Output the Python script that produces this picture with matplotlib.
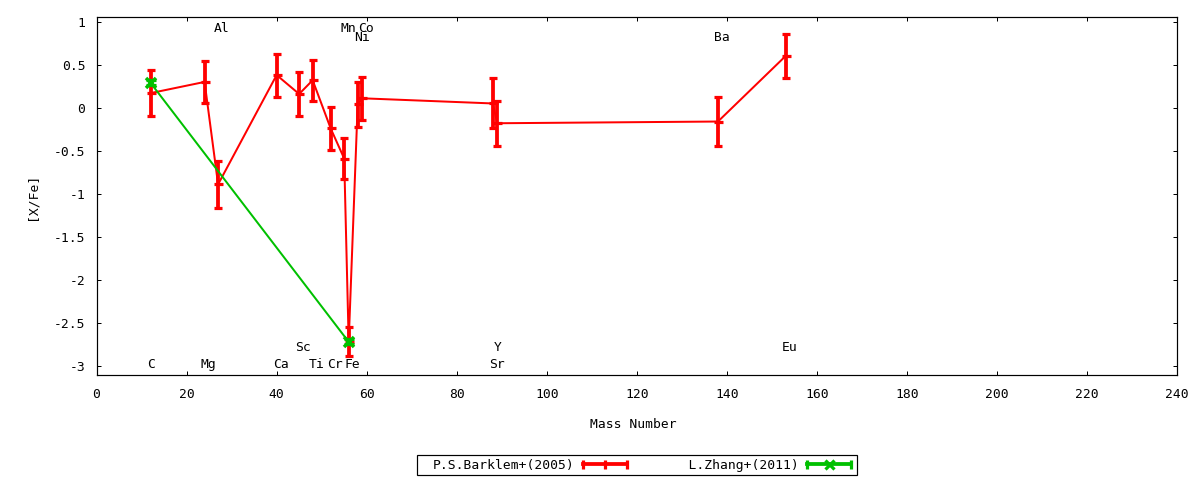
import matplotlib
matplotlib.use('Agg')
import matplotlib.pyplot as plt
from matplotlib.lines import Line2D
from matplotlib.legend_handler import HandlerBase
from matplotlib.patches import Rectangle
from matplotlib.ticker import FormatStrFormatter

# ---------------- data ----------------
barklem_mass = [12, 24, 27, 40, 45, 48, 52, 55, 56, 58, 59, 88, 89, 138, 153]
barklem_val = [0.17, 0.30, -0.89, 0.38, 0.16, 0.32, -0.24, -0.59, -2.72,
               0.04, 0.11, 0.05, -0.18, -0.16, 0.60]
barklem_err = [0.27, 0.24, 0.27, 0.25, 0.25, 0.24, 0.25, 0.24, 0.17,
               0.26, 0.25, 0.29, 0.26, 0.28, 0.26]

zhang_mass = [12, 56]
zhang_val = [0.29, -2.72]
zhang_err = [0.03, 0.03]

elem_names = ['C', 'Mg', 'Ca', 'Sc', 'Ti', 'Cr', 'Fe', 'Sr', 'Y', 'Eu',
              'Al', 'Mn', 'Co', 'Ni', 'Ba']
elem_mass = [12, 24, 40, 45, 48, 52, 56, 88, 89, 153,
             27, 55, 59, 58, 138]
elem_labely = [-3, -3, -3, -2.8, -3, -3, -3, -3, -2.8, -2.8,
               0.9, 0.9, 0.9, 0.8, 0.8]

series_labels = ['P.S.Barklem+(2005)', 'L.Zhang+(2011)']
xticks = list(range(0, 241, 20))
yticks = [-3, -2.5, -2, -1.5, -1, -0.5, 0, 0.5, 1]

RED = '#ff0000'
GREEN = '#00c000'
PX = 72 / 100.0  # points per pixel
FS = 9.4

plt.rcParams['font.family'] = ['DejaVu Sans Mono', 'DejaVu Sans']
plt.rcParams['font.size'] = FS
plt.rcParams['axes.unicode_minus'] = False

fig = plt.figure(figsize=(12, 4.8), dpi=100)
ax = fig.add_axes([96.5 / 1200, 105 / 480, 1080.8 / 1200, 357.7 / 480])

# Barklem
ax.plot(barklem_mass, barklem_val, color=RED, lw=2.0 * PX, zorder=3)
ax.errorbar(barklem_mass, barklem_val, yerr=barklem_err, fmt='none',
            ecolor=RED, elinewidth=3.8 * PX, capsize=4.2 * PX,
            capthick=3.2 * PX, zorder=3)
ax.plot(barklem_mass, barklem_val, ls='none', marker='_', ms=9 * PX,
        mew=3.2 * PX, color=RED, zorder=3)

# Zhang
ax.plot(zhang_mass, zhang_val, color=GREEN, lw=2.0 * PX, zorder=4)
ax.errorbar(zhang_mass, zhang_val, yerr=zhang_err, fmt='none',
            ecolor=GREEN, elinewidth=4 * PX, capsize=5 * PX,
            capthick=3.2 * PX, zorder=4)
ax.plot(zhang_mass, zhang_val, ls='none', marker='x', ms=10 * PX,
        mew=3.5 * PX, color=GREEN, zorder=4)

# element labels
for name, m, yv in zip(elem_names, elem_mass, elem_labely):
    ax.annotate(name, (m, yv), xytext=(-3.9 * PX, 1.5 * PX),
                textcoords='offset points', ha='left', va='center',
                fontsize=FS, color='black', zorder=5)

ax.set_xlim(0, 240)
ax.set_ylim(-3.105, 1.051)
ax.set_xticks(xticks)
ax.set_yticks(yticks)
ax.yaxis.set_major_formatter(FormatStrFormatter('%g'))
ax.xaxis.set_major_formatter(FormatStrFormatter('%g'))
ax.tick_params(direction='in', top=True, right=True, length=4 * PX,
               width=1 * PX, labelsize=FS)
ax.tick_params(axis='y', pad=11 * PX)
ax.tick_params(axis='x', pad=13 * PX)
for s in ax.spines.values():
    s.set_linewidth(1.2 * PX)

ax.set_xlabel('Mass Number', fontsize=FS, va='center')
ax.xaxis.set_label_coords(0.497, (375 - 425) / 357.7)
ax.set_ylabel('[X/Fe]', fontsize=FS, va='center')
ax.yaxis.set_label_coords((32 - 96.5) / 1080.8, 0.5)


class ErrHandler(HandlerBase):
    def create_artists(self, legend, orig_handle, xdescent, ydescent,
                       width, height, fontsize, trans):
        c = orig_handle.get_color()
        mk = orig_handle.get_marker()
        y = height / 2.0 - ydescent
        x0 = -xdescent
        x1 = x0 + width
        xm = (x0 + x1) / 2.0
        line = Line2D([x0, x1], [y, y], color=c, lw=3.8 * PX, transform=trans)
        caps = Line2D([x0, x1], [y, y], ls='none', marker='|', ms=9 * PX,
                      mew=3.2 * PX, color=c, transform=trans)
        mid = Line2D([xm], [y], ls='none', marker=mk, ms=9 * PX,
                     mew=3.2 * PX, color=c, transform=trans)
        return [line, caps, mid]


h_red = Line2D([], [], color=RED, marker='|')
h_green = Line2D([], [], color=GREEN, marker='x')
fs_px = FS / PX
leg = fig.legend([h_red, h_green],
                 [series_labels[0],
                  ' ' * (len(series_labels[0]) - len(series_labels[1])) + series_labels[1]],
                 handler_map={Line2D: ErrHandler()},
                 loc='center left', bbox_to_anchor=(433 / 1200, 1 - 465 / 480),
                 ncol=2, markerfirst=False, frameon=False, borderpad=0,
                 borderaxespad=0, handlelength=44 / fs_px,
                 handletextpad=8 / fs_px, columnspacing=30 / fs_px,
                 fontsize=FS)

fig.patches.append(Rectangle((416.7 / 1200, 1 - 475 / 480), 440 / 1200, 20 / 480,
                             transform=fig.transFigure, fill=False,
                             edgecolor='black', lw=1.2 * PX))

fig.savefig('out.png', dpi=100)
